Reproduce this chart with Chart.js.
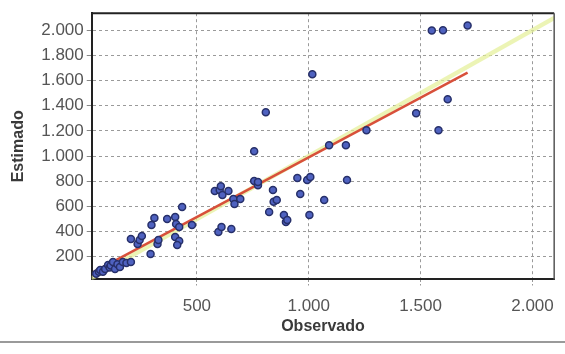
<!DOCTYPE html>
<html>
<head>
<meta charset="utf-8">
<script src="https://cdn.jsdelivr.net/npm/chart.js@4/dist/chart.umd.min.js"></script>
<style>
  html, body { margin: 0; padding: 0; background: #ffffff; }
  #wrap { position: relative; width: 565px; height: 354px; overflow: hidden; }
  #rule { position: absolute; left: 0; top: 341px; width: 565px; height: 0; border-top: 2px solid #9a9a9a; }
</style>
</head>
<body>
<div id="wrap">
  <canvas id="c" width="565" height="354"></canvas>
  <div id="rule"></div>
</div>
<script>
const observado = [
  50, 62, 68, 80, 90, 103, 110, 115, 125, 134, 145, 156, 169, 185, 205,
  205, 235, 244, 254, 293, 324, 328,
  297, 310, 367, 403, 407, 421, 403, 421, 412, 434, 478,
  580, 602, 607, 614, 641, 663, 668, 694, 596, 610, 654,
  756, 773, 773, 756, 808,
  823, 840, 843, 857, 889, 898, 904,
  949, 962, 993, 1007, 1003, 1016, 1069,
  1091, 1166, 1171, 1258,
  1480, 1550, 1580, 1600, 1621, 1710
];
const estimado = [
  64, 80, 95, 80, 103, 135, 115, 130, 159, 103, 140, 119, 159, 150, 159,
  341, 301, 333, 365, 222, 301, 333,
  452, 508, 500, 516, 460, 436, 357, 325, 293, 595, 452,
  722, 730, 761, 690, 722, 658, 619, 658, 397, 436, 420,
  801, 769, 793, 1039, 1348,
  555, 730, 636, 650, 531, 476, 492,
  825, 698, 809, 833, 531, 1650, 650,
  1086, 1086, 809, 1205,
  1340, 1998, 1205, 2000, 1451, 2038
];
// Fitted (regression) line end points
const ajusteX = [40, 1710];
const ajusteY = [80, 1663];
// 1:1 reference line
const refX = [0, 2200];
const refY = [0, 2200];
// Axis tick values and bounds
const xTicks = [500, 1000, 1500, 2000];
const yTicks = [200, 400, 600, 800, 1000, 1200, 1400, 1600, 1800, 2000];
const xRange = [30, 2097];
const yRange = [20, 2135];

function fmt(v) {
  return Number(v).toLocaleString('de-DE');
}

const framePlugin = {
  id: 'frame',
  afterDraw(chart) {
    const a = chart.chartArea, ctx = chart.ctx;
    ctx.save();
    ctx.lineWidth = 2;
    ctx.strokeStyle = '#222';
    ctx.beginPath();
    ctx.moveTo(a.left, a.top);
    ctx.lineTo(a.right, a.top);
    ctx.stroke();
    ctx.strokeStyle = '#555';
    ctx.lineWidth = 1.5;
    ctx.beginPath();
    ctx.moveTo(a.right, a.top);
    ctx.lineTo(a.right, a.bottom);
    ctx.stroke();
    ctx.restore();
  }
};

const FONT = 'Liberation Sans, Arial, sans-serif';

new Chart(document.getElementById('c'), {
  type: 'scatter',
  data: {
    datasets: [
      {
        type: 'scatter',
        label: 'Datos',
        data: observado.map((x, i) => ({ x: x, y: estimado[i] })),
        backgroundColor: '#4f62c0',
        borderColor: '#27306a',
        borderWidth: 1.5,
        pointRadius: 3.5,
        order: 1
      },
      {
        type: 'line',
        label: 'Ajuste',
        data: ajusteX.map((x, i) => ({ x: x, y: ajusteY[i] })),
        borderColor: '#d8503a',
        borderWidth: 2.5,
        pointRadius: 0,
        fill: false,
        order: 2
      },
      {
        type: 'line',
        label: '1:1',
        data: refX.map((x, i) => ({ x: x, y: refY[i] })),
        borderColor: 'rgba(228, 240, 150, 0.7)',
        borderWidth: 4.5,
        pointRadius: 0,
        fill: false,
        order: 3
      }
    ]
  },
  options: {
    responsive: false,
    animation: false,
    layout: { padding: { left: 9, right: 3, top: 10, bottom: 18 } },
    plugins: {
      legend: { display: false },
      tooltip: { enabled: false }
    },
    scales: {
      x: {
        type: 'linear',
        min: xRange[0],
        max: xRange[1],
        afterBuildTicks: (s) => { s.ticks = xTicks.map(v => ({ value: v })); },
        ticks: {
          callback: (v) => fmt(v),
          color: '#555',
          font: { family: FONT, size: 17 },
          padding: 11,
          maxRotation: 0
        },
        grid: {
          color: '#9a9a9a',
          lineWidth: 1,
          tickLength: 6,
          tickColor: '#999',
          tickBorderDash: [2, 2]
        },
        border: { display: true, color: '#222', width: 2, dash: [3, 3] },
        title: {
          display: true,
          text: 'Observado',
          color: '#3a3a3a',
          font: { family: FONT, size: 16, weight: 'bold' },
          padding: { top: -11, bottom: 0 }
        }
      },
      y: {
        type: 'linear',
        min: yRange[0],
        max: yRange[1],
        afterBuildTicks: (s) => { s.ticks = yTicks.map(v => ({ value: v })); },
        ticks: {
          callback: (v) => fmt(v),
          color: '#555',
          font: { family: FONT, size: 17 },
          padding: 3
        },
        grid: {
          color: '#9a9a9a',
          lineWidth: 1,
          tickLength: 5,
          tickColor: '#888',
          tickBorderDash: []
        },
        border: { display: true, color: '#222', width: 2, dash: [3, 3] },
        title: {
          display: true,
          text: 'Estimado',
          color: '#3a3a3a',
          font: { family: FONT, size: 16, weight: 'bold' },
          padding: { top: 0, bottom: 10 }
        }
      }
    }
  },
  plugins: [framePlugin]
});
</script>
</body>
</html>
